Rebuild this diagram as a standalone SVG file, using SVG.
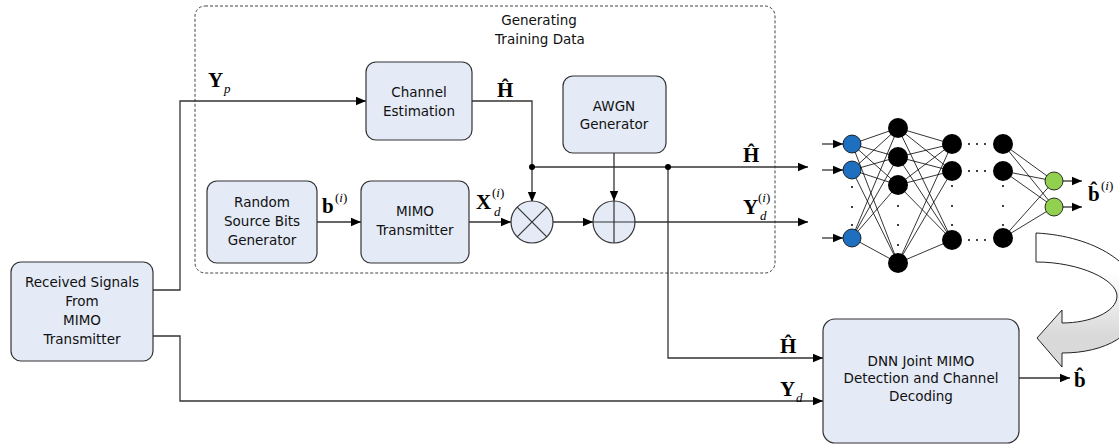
<svg xmlns="http://www.w3.org/2000/svg" width="1119" height="447" viewBox="0 0 1119 447">
<defs>
<marker id="arr" markerUnits="userSpaceOnUse" markerWidth="10" markerHeight="10" viewBox="0 0 10 10" refX="10" refY="5" orient="auto"><path d="M0,0.8 L10,5 L0,9.2 z" fill="#000"/></marker>
<linearGradient id="g" gradientUnits="userSpaceOnUse" x1="0" y1="272" x2="0" y2="335"><stop offset="0" stop-color="#fff"/><stop offset="1" stop-color="#d9d9d9"/></linearGradient>
</defs>
<style>
.box{fill:#e4eaf6;stroke:#333;stroke-width:1.2}
.t{font-family:"DejaVu Sans",sans-serif;font-size:13.5px;fill:#111;text-anchor:middle}
.c{fill:none;stroke:#333;stroke-width:1.3}
.ca{fill:none;stroke:#333;stroke-width:1.3;marker-end:url(#arr)}
.m{font-family:"Liberation Serif",serif;font-weight:bold;font-size:21px;fill:#000}
.s{font-family:"Liberation Serif",serif;font-style:italic;font-size:13px;fill:#000}
.p{font-family:"Liberation Serif",serif;font-size:13px;fill:#000}
.nl{stroke:#000;stroke-width:0.8}
.blue{fill:#1f6fc0;stroke:#000;stroke-width:0.8}
.blk{fill:#000}
.grn{fill:#92d050;stroke:#000;stroke-width:0.8}
.dot{fill:#000}
</style>

<g id="training-region">
<rect x="195" y="6" width="580" height="267" rx="10" fill="none" stroke="#444" stroke-width="1" stroke-dasharray="3 2"/>
<text class="t" x="539" y="24.5">Generating</text>
<text class="t" x="540" y="43.5">Training Data</text>
</g>

<g id="connectors">
<path class="ca" d="M153,290 H180 V101 H366"/>
<path class="ca" d="M153,336 H180 V401 H823"/>
<path class="ca" d="M472,101 H532 V202"/>
<path class="ca" d="M532,167 H808"/>
<path class="ca" d="M668,167 V358 H823"/>
<path class="ca" d="M317,222 H361"/>
<path class="ca" d="M469,222 H511"/>
<path class="ca" d="M553,222 H593"/>
<path class="ca" d="M635,222 H808"/>
<path class="ca" d="M614,153 V201"/>
<path class="ca" d="M1019,378 H1070"/>
<circle cx="532" cy="167" r="3" fill="#000"/>
<circle cx="668" cy="167" r="3" fill="#000"/>
</g>

<g id="received">
<rect class="box" x="11" y="262" width="142" height="99" rx="10"/>
<text class="t" x="82" y="286.5">Received Signals</text>
<text class="t" x="82" y="306">From</text>
<text class="t" x="82" y="324.5">MIMO</text>
<text class="t" x="82" y="343.5">Transmitter</text>
</g>

<g id="channel-estimation">
<rect class="box" x="366" y="62" width="106" height="78" rx="10"/>
<text class="t" x="419" y="96.5">Channel</text>
<text class="t" x="419" y="115.5">Estimation</text>
</g>

<g id="awgn">
<rect class="box" x="563" y="76" width="103" height="77" rx="10"/>
<text class="t" x="614" y="110.5">AWGN</text>
<text class="t" x="614" y="128.5">Generator</text>
</g>

<g id="random-bits">
<rect class="box" x="207" y="181" width="110" height="82" rx="10"/>
<text class="t" x="262" y="206.5">Random</text>
<text class="t" x="262" y="225.5">Source Bits</text>
<text class="t" x="262" y="244.5">Generator</text>
</g>

<g id="mimo-tx">
<rect class="box" x="361" y="181" width="108" height="82" rx="10"/>
<text class="t" x="415" y="215.5">MIMO</text>
<text class="t" x="415" y="234.5">Transmitter</text>
</g>

<g id="multiplier">
<circle class="box" cx="532" cy="222" r="21"/>
<path d="M517.2,207.2 L546.8,236.8 M546.8,207.2 L517.2,236.8" stroke="#333" stroke-width="1.2"/>
</g>

<g id="adder">
<circle class="box" cx="614" cy="222" r="21"/>
<path d="M593,222 H635 M614,201 V243" stroke="#333" stroke-width="1.2"/>
</g>

<g id="dnn-box">
<rect class="box" x="823" y="319" width="196" height="124" rx="12"/>
<text class="t" x="921" y="366">DNN Joint MIMO</text>
<text class="t" x="921" y="383">Detection and Channel</text>
<text class="t" x="921" y="401">Decoding</text>
</g>

<g id="labels">
<text class="m" x="208" y="87">Y</text><text class="s" x="224" y="93">p</text>
<text class="m" x="497" y="97">Ĥ</text>
<text class="m" x="322" y="213">b</text><text class="p" x="335" y="202">(<tspan class="s">i</tspan>)</text>
<text class="m" x="476" y="209">X</text><text class="p" x="492" y="197">(<tspan class="s">i</tspan>)</text><text class="s" x="494" y="216">d</text>
<text class="m" x="743" y="162">Ĥ</text>
<text class="m" x="743" y="214">Y</text><text class="p" x="758" y="202">(<tspan class="s">i</tspan>)</text><text class="s" x="760" y="220">d</text>
<text class="m" x="780" y="353">Ĥ</text>
<text class="m" x="780" y="396">Y</text><text class="s" x="796" y="402">d</text>
<text class="m" x="1074" y="387">b̂</text>
<text class="m" x="1088" y="201">b̂</text><text class="p" x="1101" y="190">(<tspan class="s">i</tspan>)</text>
</g>

<g id="neural-network">
<g class="nl">
<path d="M852,144 L898,128 M852,144 L898,157 M852,144 L898,185 M852,144 L898,263 M852,170 L898,128 M852,170 L898,157 M852,170 L898,185 M852,170 L898,263 M852,238 L898,128 M852,238 L898,157 M852,238 L898,185 M852,238 L898,263"/>
<path d="M898,128 L952,144 M898,128 L952,171 M898,128 L952,240 M898,157 L952,144 M898,157 L952,171 M898,157 L952,240 M898,185 L952,144 M898,185 L952,171 M898,185 L952,240 M898,263 L952,144 M898,263 L952,171 M898,263 L952,240"/>
<path d="M1003,144 L1054,181 M1003,144 L1054,207 M1003,171 L1054,181 M1003,171 L1054,207 M1003,238 L1054,181 M1003,238 L1054,207"/>
</g>
<path class="ca" d="M822,144 H843"/>
<path class="ca" d="M822,170 H843"/>
<path class="ca" d="M822,238 H843"/>
<path class="ca" d="M1063,181 H1082"/>
<path class="ca" d="M1063,207 H1082"/>
<circle class="blue" cx="852" cy="144" r="9"/>
<circle class="blue" cx="852" cy="170" r="9"/>
<circle class="blue" cx="852" cy="238" r="9"/>
<circle class="blk" cx="898" cy="128" r="10"/>
<circle class="blk" cx="898" cy="157" r="10"/>
<circle class="blk" cx="898" cy="185" r="10"/>
<circle class="blk" cx="898" cy="263" r="10"/>
<circle class="blk" cx="952" cy="144" r="10"/>
<circle class="blk" cx="952" cy="171" r="10"/>
<circle class="blk" cx="952" cy="240" r="10"/>
<circle class="blk" cx="1003" cy="144" r="10"/>
<circle class="blk" cx="1003" cy="171" r="10"/>
<circle class="blk" cx="1003" cy="238" r="10"/>
<circle class="grn" cx="1054" cy="181" r="9"/>
<circle class="grn" cx="1054" cy="207" r="9"/>
<g class="dot">
<circle cx="852" cy="187" r="1"/><circle cx="852" cy="207" r="1"/><circle cx="852" cy="225" r="1"/>
<circle cx="898" cy="206" r="1"/><circle cx="898" cy="225" r="1"/><circle cx="898" cy="245" r="1"/>
<circle cx="952" cy="186" r="1"/><circle cx="952" cy="206" r="1"/><circle cx="952" cy="225" r="1"/>
<circle cx="1003" cy="186" r="1"/><circle cx="1003" cy="206" r="1"/><circle cx="1003" cy="225" r="1"/>
<circle cx="969" cy="144" r="1"/><circle cx="977" cy="144" r="1"/><circle cx="985" cy="144" r="1"/>
<circle cx="969" cy="171" r="1"/><circle cx="977" cy="171" r="1"/><circle cx="985" cy="171" r="1"/>
<circle cx="969" cy="240" r="1"/><circle cx="977" cy="240" r="1"/><circle cx="985" cy="240" r="1"/>
</g>
</g>

<g id="curved-arrow">
<path d="M1036,233 C1095,236 1140,265 1140,300 C1140,335 1105,353 1062,353 L1062,367 L1037,338 L1062,310 L1062,323 C1090,323 1117,312 1117,296 C1117,280 1080,262 1036,262 Z" fill="url(#g)" stroke="#222" stroke-width="1"/>
</g>
</svg>
